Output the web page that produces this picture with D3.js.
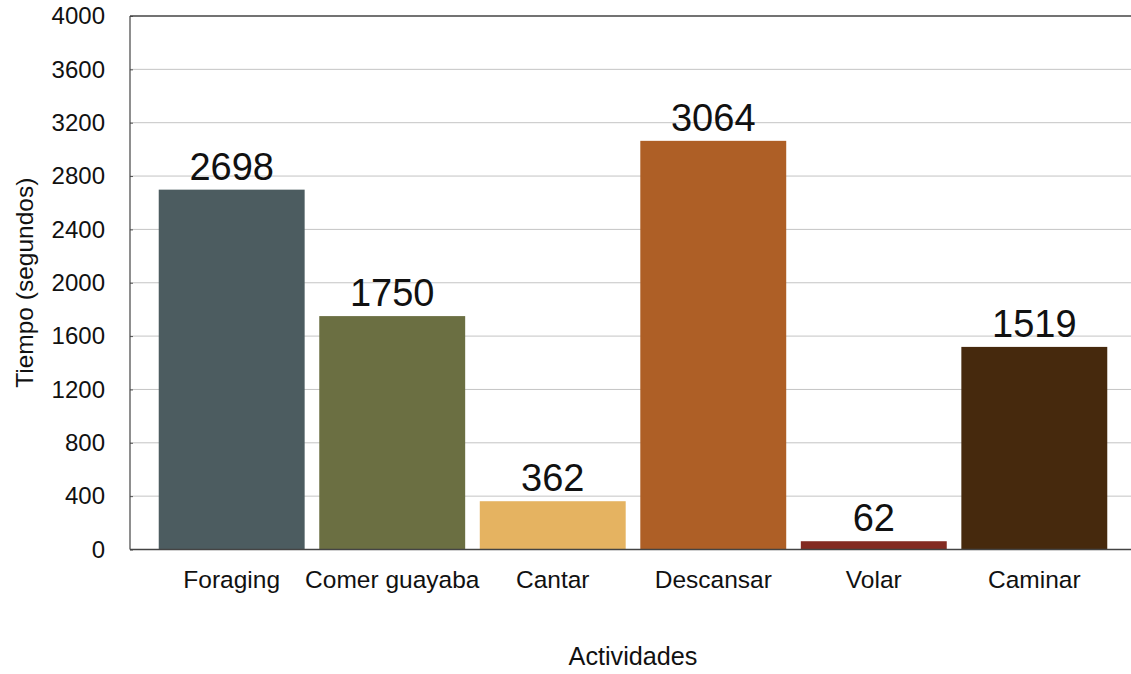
<!DOCTYPE html>
<html>
<head>
<meta charset="utf-8">
<script src="https://cdn.jsdelivr.net/npm/d3@7"></script>
<style>
  body { margin: 0; background: #fff; }
  text { font-family: "Liberation Sans", Arial, Helvetica, sans-serif; fill: #111; }
</style>
</head>
<body>
<script>
// data
var categories = ['Foraging', 'Comer guayaba', 'Cantar', 'Descansar', 'Volar', 'Caminar'];
var values = [2698, 1750, 362, 3064, 62, 1519];
var colors = ['#4c5c60', '#6b6f42', '#e5b361', '#ae5f26', '#832b22', '#46290d'];
var yTicks = [0, 400, 800, 1200, 1600, 2000, 2400, 2800, 3200, 3600, 4000];

const W = 1131, H = 674;
const plotLeft = 130, plotTop = 16, plotBottom = 549.5;

const svg = d3.select('body').append('svg')
	.attr('width', W)
	.attr('height', H);

const x = d3.scaleBand()
	.domain(categories)
	.range([plotLeft, 1136])
	.paddingInner(0.091)
	.paddingOuter(0.179);

const y = d3.scaleLinear()
	.domain([0, 4000])
	.range([plotBottom, plotTop]);

// grid lines
svg.append('g')
	.selectAll('line')
	.data(yTicks.slice(1, -1))
	.enter()
	.append('line')
	.attr('x1', plotLeft)
	.attr('x2', W)
	.attr('y1', function (d) { return y(d); })
	.attr('y2', function (d) { return y(d); })
	.attr('stroke', '#c4c4c4')
	.attr('stroke-width', 1);

// y axis (ticks point inward, labels on the left)
const yAxis = d3.axisLeft(y)
	.tickValues(yTicks)
	.tickFormat(d3.format('d'))
	.tickSize(-3)
	.tickPadding(25);

const gy = svg.append('g')
	.attr('transform', 'translate(' + plotLeft + ',0)')
	.call(yAxis);
gy.select('.domain').remove();
gy.selectAll('.tick line').attr('stroke', '#555');
gy.selectAll('.tick text')
	.attr('font-size', 24)
	.attr('fill', '#111')
	.style('font-family', '"Liberation Sans", Arial, sans-serif');

// bars
svg.append('g')
	.selectAll('rect')
	.data(values)
	.enter()
	.append('rect')
	.attr('x', function (d, i) { return x(categories[i]); })
	.attr('y', function (d) { return y(d); })
	.attr('width', x.bandwidth())
	.attr('height', function (d) { return y(0) - y(d); })
	.attr('fill', function (d, i) { return colors[i]; });

// value labels
svg.append('g')
	.selectAll('text')
	.data(values)
	.enter()
	.append('text')
	.attr('x', function (d, i) { return x(categories[i]) + x.bandwidth() / 2; })
	.attr('y', function (d) { return y(d) - 10; })
	.attr('text-anchor', 'middle')
	.attr('font-size', 38)
	.text(function (d) { return d; });

// frame: left, top and baseline
svg.append('line')
	.attr('x1', plotLeft).attr('x2', plotLeft)
	.attr('y1', plotTop).attr('y2', plotBottom)
	.attr('stroke', '#444').attr('stroke-width', 1.2);
svg.append('line')
	.attr('x1', plotLeft).attr('x2', W)
	.attr('y1', plotTop).attr('y2', plotTop)
	.attr('stroke', '#444').attr('stroke-width', 1.5);
svg.append('line')
	.attr('x1', plotLeft).attr('x2', W)
	.attr('y1', plotBottom).attr('y2', plotBottom)
	.attr('stroke', '#444').attr('stroke-width', 1.5);

// category labels
const xAxis = d3.axisBottom(x).tickSize(0).tickPadding(0);
const gx = svg.append('g')
	.attr('transform', 'translate(0,' + plotBottom + ')')
	.call(xAxis);
gx.select('.domain').remove();
gx.selectAll('.tick text')
	.attr('y', 38.5)
	.attr('dy', null)
	.attr('font-size', 24.5)
	.attr('fill', '#111')
	.style('font-family', '"Liberation Sans", Arial, sans-serif');

// axis titles
svg.append('text')
	.attr('x', (plotLeft + 1136) / 2)
	.attr('y', 665)
	.attr('text-anchor', 'middle')
	.attr('font-size', 25.2)
	.text('Actividades');

svg.append('text')
	.attr('transform', 'translate(33,' + (plotTop + plotBottom) / 2 + ') rotate(-90)')
	.attr('text-anchor', 'middle')
	.attr('font-size', 24.5)
	.text('Tiempo (segundos)');
</script>
</body>
</html>
